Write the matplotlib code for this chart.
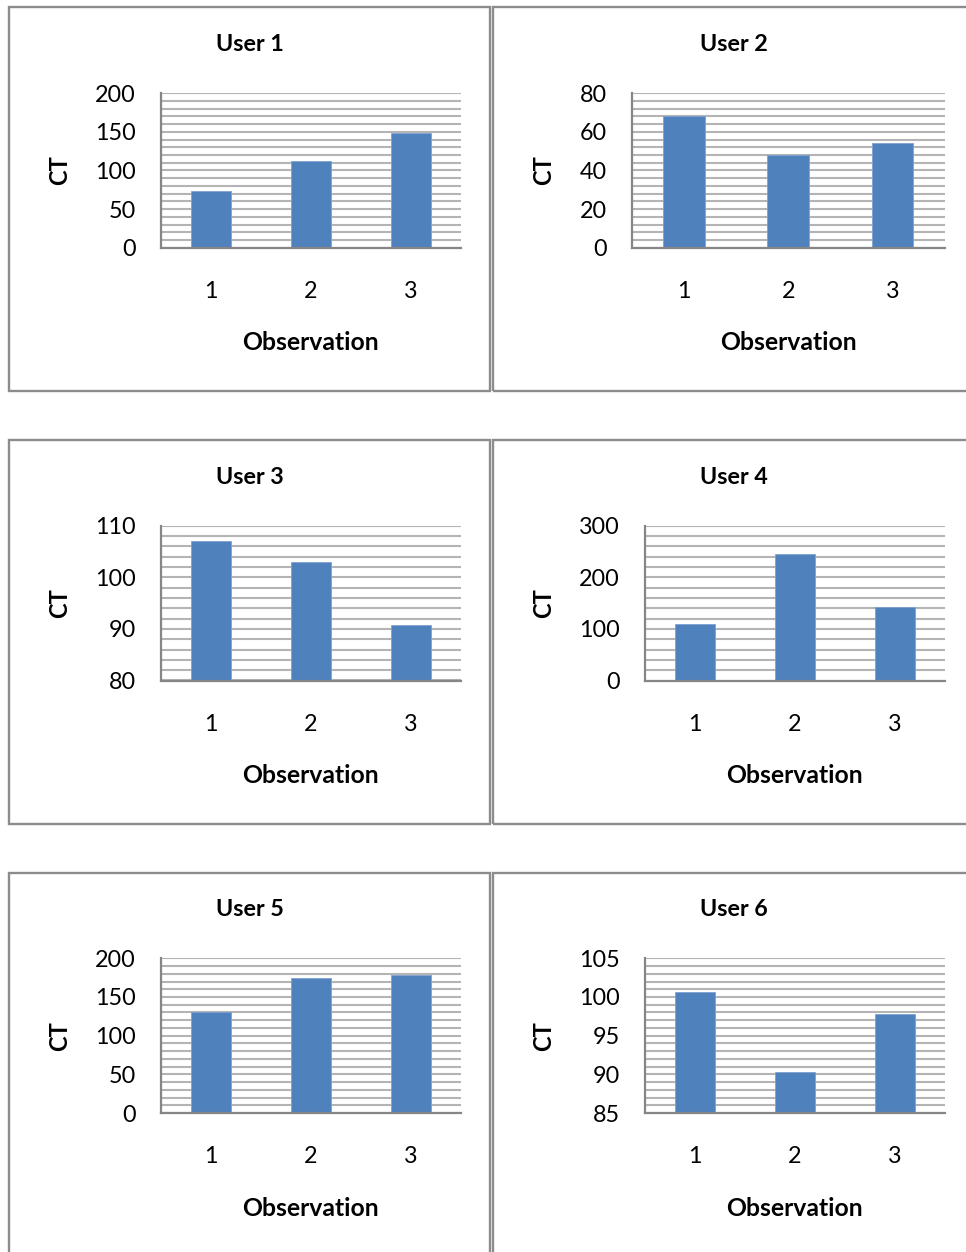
import matplotlib
matplotlib.use("Agg")
import matplotlib.pyplot as plt
from matplotlib.patches import Rectangle
from matplotlib.ticker import MultipleLocator

plt.rcParams['font.family'] = ['Lato', 'DejaVu Sans']

# --- data ---
users = ["User 1", "User 2", "User 3", "User 4", "User 5", "User 6"]
observations = [1, 2, 3]
ct_user1 = [73, 112, 148]
ct_user2 = [68, 48, 54]
ct_user3 = [107, 103, 90.7]
ct_user4 = [109, 245, 143]
ct_user5 = [130, 175, 179]
ct_user6 = [100.7, 90.3, 97.8]
ct_values = [ct_user1, ct_user2, ct_user3, ct_user4, ct_user5, ct_user6]

# y range, labelled step and gridline step for each chart
y_ranges = [(0, 200), (0, 80), (80, 110), (0, 300), (0, 200), (85, 105)]
y_label_steps = [50, 20, 10, 100, 50, 5]
y_grid_steps = [10, 4, 2, 20, 10, 1]

BAR_COLOR = "#4F81BD"
GRID_COLOR = "#b4b4b4"
AXIS_COLOR = "#868686"
BORDER_COLOR = "#8c8c8c"

W, H = 966, 1252
fig = plt.figure(figsize=(W / 100, H / 100), dpi=100)


def fx(x):
    return x / W


def fy(y):
    return 1 - y / H


# panel layout in pixels (origin top-left)
col_left = [9.3, 493.3]
row_top = [7.3, 440.0, 872.5]
panel_w, panel_h = 480.7, 383.5

for i, user in enumerate(users):
    r, c = divmod(i, 2)
    px, py = col_left[c], row_top[r]

    # chart area border
    fig.add_artist(Rectangle((fx(px), fy(py + panel_h)), panel_w / W, panel_h / H,
                             transform=fig.transFigure, fill=False,
                             edgecolor=BORDER_COLOR, linewidth=1.7))

    lo, hi = y_ranges[i]
    n_chars = max(len(str(lo)), len(str(hi)))
    x0 = px + (151.7 if n_chars >= 3 else 138.4)
    x1 = px + 451.3
    y0 = py + 85.8
    y1 = py + 240.5
    ax = fig.add_axes([fx(x0), fy(y1), (x1 - x0) / W, (y1 - y0) / H])

    ax.bar(observations, ct_values[i], width=0.4, color=BAR_COLOR,
           edgecolor="#7fa2d2", linewidth=0.6, zorder=3)
    ax.set_xlim(0.5, 3.5)
    ax.set_ylim(lo, hi)
    ax.set_xticks(observations)
    ax.yaxis.set_major_locator(MultipleLocator(y_label_steps[i]))
    ax.yaxis.set_minor_locator(MultipleLocator(y_grid_steps[i]))
    ax.grid(axis="y", which="both", color=GRID_COLOR, linewidth=1.5, zorder=0)
    ax.set_axisbelow(True)

    for side in ("top", "right"):
        ax.spines[side].set_visible(False)
    for side in ("left", "bottom"):
        ax.spines[side].set_color(AXIS_COLOR)
        ax.spines[side].set_linewidth(1.6)
        ax.spines[side].set_zorder(4)

    ax.tick_params(axis="both", which="both", length=0, labelsize=16.8, colors="black")
    ax.tick_params(axis="y", pad=18)
    ax.tick_params(axis="x", pad=24)

    # titles and axis labels
    fig.text(fx(px + 240.3), fy(py + 37.5), user, ha="center", va="center",
             fontsize=16.8, fontweight="bold")
    fig.text(fx(px + 50.7), fy((y0 + y1) / 2), "CT", ha="center", va="center",
             rotation=90, fontsize=17, fontweight="bold")
    fig.text(fx((x0 + x1) / 2), fy(py + 335.5), "Observation", ha="center", va="center",
             fontsize=17.8, fontweight="bold")

fig.savefig("out.png", dpi=100, facecolor="white")
